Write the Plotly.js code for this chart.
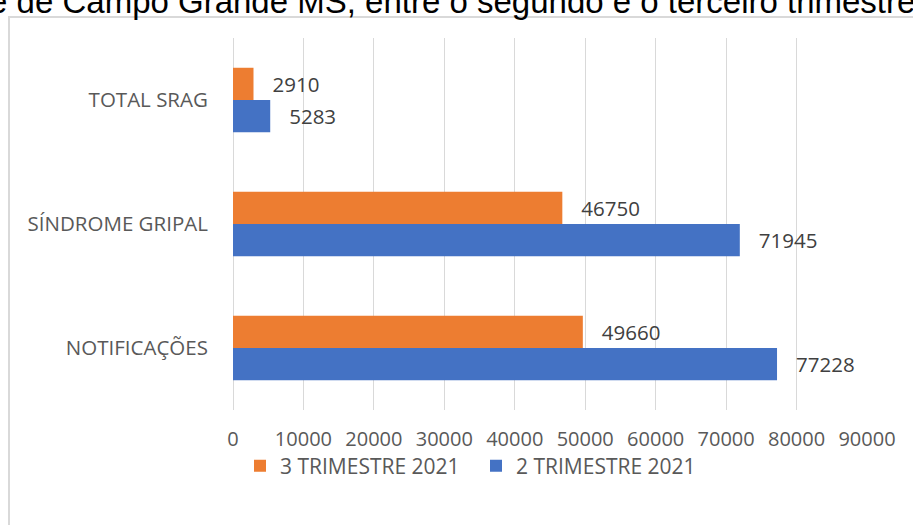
<!DOCTYPE html>
<html>
<head>
<meta charset="utf-8">
<script src="https://cdn.plot.ly/plotly-3.0.1.min.js"></script>
<style>html,body{margin:0;padding:0;background:#fff;}#chart{width:913px;height:525px;}</style>
</head>
<body>
<div id="chart"></div>
<script>
const categories = ['NOTIFICAÇÕES', 'SÍNDROME GRIPAL', 'TOTAL SRAG'];
const trimestre2 = [77228, 71945, 5283];
const trimestre3 = [49660, 46750, 2910];
const seriesNames = ['2 TRIMESTRE 2021', '3 TRIMESTRE 2021'];
const xTicks = [0, 10000, 20000, 30000, 40000, 50000, 60000, 70000, 80000, 90000];
const titleText = 'dade de Campo Grande MS, entre o segundo e o terceiro trimestre de 2021';

const W = 913, H = 525;
const L = 233, R = 46, T = 38, B = 115;
const pw = W - L - R, ph = H - T - B;
const px = X => (X - L) / pw;
const py = Y => (H - B - Y) / ph;

const FONT = 'Open Sans, sans-serif';
const pad = '\u00a0\u00a0\u00a0';

const mk = (name, vals, color) => ({
  type: 'bar', orientation: 'h', name: name,
  y: categories, x: vals,
  marker: {color: color},
  text: vals.map(v => pad + v),
  textposition: 'outside',
  textfont: {family: FONT, size: 20.5, color: '#404040'},
  constraintext: 'none', cliponaxis: false,
  hoverinfo: 'x+y'
});

const data = [
  mk(seriesNames[0], trimestre2, '#4472C4'),
  mk(seriesNames[1], trimestre3, '#ED7D31')
];

const layout = {
  width: W, height: H,
  margin: {l: L, r: R, t: T, b: B, pad: 0},
  paper_bgcolor: '#ffffff', plot_bgcolor: '#ffffff',
  barmode: 'group', bargap: 0.48, bargroupgap: 0,
  font: {family: FONT, size: 20, color: '#595959'},
  xaxis: {
    range: [0, 90000], tickvals: xTicks, ticktext: xTicks.map(String),
    showgrid: true, gridcolor: '#d9d9d9', gridwidth: 1,
    zeroline: true, zerolinecolor: '#d9d9d9', zerolinewidth: 1,
    showline: false, ticks: 'outside', ticklen: 11, tickcolor: 'rgba(0,0,0,0)',
    tickfont: {family: FONT, size: 20, color: '#595959'}, fixedrange: true
  },
  yaxis: {
    type: 'category', showgrid: false, zeroline: false, showline: false,
    ticks: 'outside', ticklen: 20, tickcolor: 'rgba(0,0,0,0)',
    tickfont: {family: FONT, size: 20.5, color: '#595959'}, fixedrange: true
  },
  legend: {
    orientation: 'h', traceorder: 'reversed',
    x: px(240), xanchor: 'left', y: py(466), yanchor: 'middle',
    font: {family: FONT, size: 21, color: '#595959'},
    entrywidth: 191, entrywidthmode: 'pixels',
    bgcolor: 'rgba(0,0,0,0)'
  },
  shapes: [{
    type: 'rect', xref: 'paper', yref: 'paper',
    x0: px(9), x1: px(1200), y0: py(17), y1: py(800),
    line: {color: '#d9d9d9', width: 2}, fillcolor: 'rgba(0,0,0,0)', layer: 'below'
  }],
  annotations: [{
    xref: 'paper', yref: 'paper', x: px(-68), y: py(22),
    xanchor: 'left', yanchor: 'bottom', showarrow: false,
    text: titleText,
    font: {family: 'Liberation Sans, Arial, sans-serif', size: 33, color: '#000000'}
  }],
  showlegend: true
};

Plotly.newPlot('chart', data, layout, {displayModeBar: false, staticPlot: true});
</script>
</body>
</html>
